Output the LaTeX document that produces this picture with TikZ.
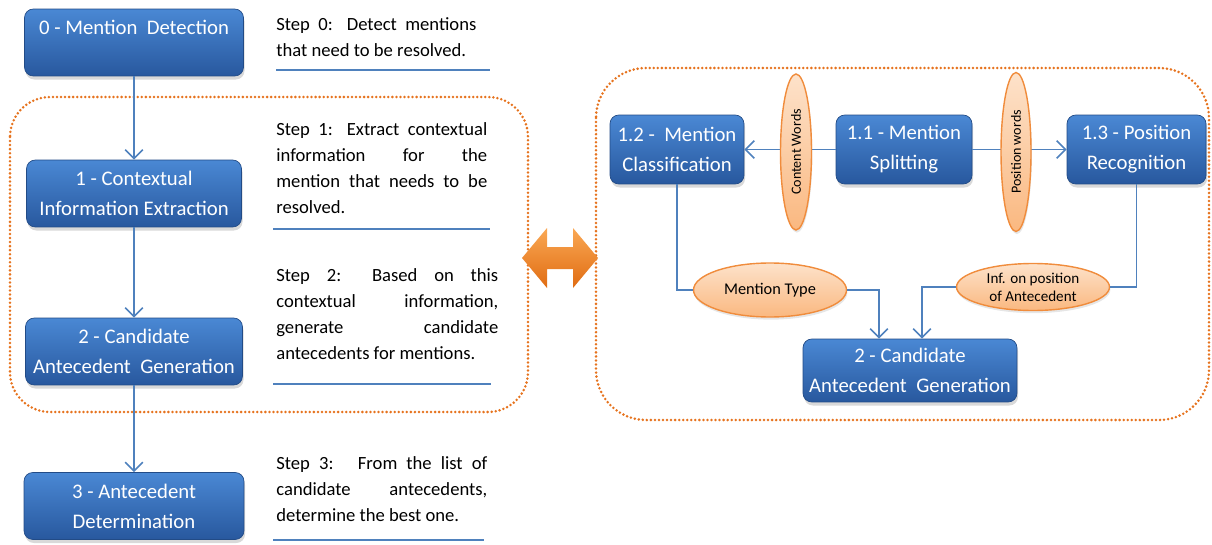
\documentclass[tikz,border=0pt]{standalone}
\usepackage{fontspec}
\setmainfont{Carlito}
\usepackage{tikz}
\usetikzlibrary{calc,positioning,shapes,shadows,arrows.meta}

\definecolor{boxtop}{RGB}{74,136,212}
\definecolor{boxbot}{RGB}{40,88,158}
\definecolor{lineblue}{RGB}{79,129,189}
\definecolor{tagtop}{RGB}{253,226,202}
\definecolor{tagbot}{RGB}{250,184,128}
\definecolor{tagline}{RGB}{240,140,60}
\definecolor{zoneorange}{RGB}{230,115,30}
\definecolor{linktop}{RGB}{250,168,84}
\definecolor{linkbot}{RGB}{224,108,18}

\begin{document}
\begin{tikzpicture}[x=0.02cm, y=-0.02cm,
  stage/.style={rounded corners=5pt, top color=boxtop, bottom color=boxbot, draw=boxbot!85!black,
    text=white, align=center, inner sep=1pt, minimum height=1.34cm,
    font=\fontsize{11.8}{17}\selectfont,
    drop shadow={shadow xshift=0.6pt, shadow yshift=-2pt, opacity=0.3}},
  tag/.style={ellipse, draw=tagline, thick, top color=tagtop, bottom color=tagbot, align=center,
    inner sep=0.5pt, font=\fontsize{8}{9.5}\selectfont,
    drop shadow={shadow xshift=0.5pt, shadow yshift=-1.5pt, opacity=0.2}},
  flow/.style={draw=lineblue, line width=0.9pt, -{Straight Barb[length=5pt, width=10pt]}},
  note/.style={anchor=north west, inner sep=0pt, align=justify, font=\fontsize{10.6}{14.8}\selectfont},
  rule/.style={draw=lineblue, line width=1.1pt},
  zone/.style={draw=zoneorange, line width=1.6pt, line cap=round, dash pattern=on 0pt off 2.3pt}]
\useasboundingbox (0,0) rectangle (1212,544);

% dotted areas and the link between them
\draw[zone, rounded corners=0.8cm] (10,97) rectangle (528,412);
\draw[zone, rounded corners=1cm] (596,68) rectangle (1209,420);
\shade[top color=linktop, bottom color=linkbot]
  (522,258) -- (547,228) -- (547,247) -- (573,247) -- (573,228) -- (598,258)
  -- (573,288) -- (573,269) -- (547,269) -- (547,288) -- cycle;

% main steps
\node[stage, minimum width=4.38cm] (s0) at (134,42.5) {0 - Mention~~Detection\\\mbox{}};
\node[stage, minimum width=4.3cm] (s1) at (134,193.5) {1 - Contextual\\Information Extraction};
\node[stage, minimum width=4.34cm] (s2) at (134,351.5) {2 - Candidate\\Antecedent~~Generation};
\node[stage, minimum width=4.4cm] (s3) at (134,506) {3 - Antecedent\\Determination};
\draw[flow] (s0) -- (s1);
\draw[flow] (s1) -- (s2);
\draw[flow] (s2) -- (s3);

% step descriptions
\node[note, text width=4cm] (n0) at (276,17) {Step 0: Detect mentions\linebreak that need to be resolved.};
\node[note, text width=4.22cm] (n1) at (276,122) {Step 1: Extract contextual\linebreak information for the\linebreak mention that needs to be\linebreak resolved.};
\node[note, text width=4.44cm] (n2) at (276,268) {Step 2: Based on this\linebreak contextual information,\linebreak generate candidate\linebreak antecedents for mentions.};
\node[note, text width=4.22cm] (n3) at (276,456) {Step 3:~ From the list of\linebreak candidate antecedents,\linebreak determine the best one.};
\draw[rule] (276,70) -- (490,70);
\draw[rule] (273,229) -- (490,229);
\draw[rule] (273,384) -- (491,384);
\draw[rule] (273,540) -- (484,540);

% details of steps 1 and 2
\node[stage, minimum width=2.68cm, minimum height=1.38cm] (m12) at (677,149.5) {1.2 -~ Mention\\Classification};
\node[stage, minimum width=2.72cm, minimum height=1.38cm] (m11) at (904,149.5) {1.1 - Mention\\Splitting};
\node[stage, minimum width=2.78cm, minimum height=1.38cm] (m13) at (1136.5,149.5) {1.3 - Position\\Recognition};
\node[stage, minimum width=4.28cm, minimum height=1.26cm] (m2) at (910,370.5) {2 - Candidate\\Antecedent~~Generation};

\draw[flow] (m11) -- (m12);
\draw[flow] (m11) -- (m13);
\node[tag, rotate=90, minimum width=3.12cm, minimum height=0.62cm] (cw) at (796,152) {Content Words};
\node[tag, rotate=90, minimum width=3.18cm, minimum height=0.6cm] (pw) at (1016,152) {Position words};

\node[tag, minimum width=3.06cm, minimum height=1.08cm, font=\fontsize{9.3}{11}\selectfont] (mt) at (770,290) {Mention Type};
\node[tag, minimum width=3.06cm, minimum height=0.94cm, font=\fontsize{8.6}{10.2}\selectfont] (ip) at (1033,287) {Inf. on position\\of Antecedent};
\draw[draw=lineblue, line width=0.9pt] (m12.south) |- (mt.west);
\draw[draw=lineblue, line width=0.9pt] (m13.south) |- (ip.east);
\draw[flow] (mt.east) -| ($(m2.north)+(-31,0)$);
\draw[flow] (ip.west) -| ($(m2.north)+(12,0)$);
\end{tikzpicture}
\end{document}
